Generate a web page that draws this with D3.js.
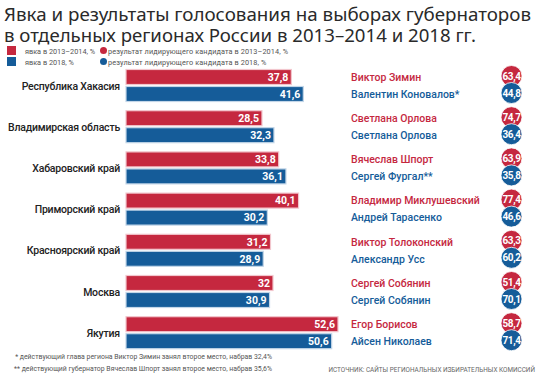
<!DOCTYPE html>
<html><head><meta charset="utf-8">
<script src="https://cdn.jsdelivr.net/npm/d3@7"></script>
<style>
body{margin:0;background:#fff;}
svg{display:block;font-family:Roboto,"Noto Sans",sans-serif;}
</style></head>
<body>
<svg id="chart" width="538" height="380"></svg>
<script>
const regions = ["Республика Хакасия","Владимирская область","Хабаровский край","Приморский край","Красноярский край","Москва","Якутия"];
const turnout2013 = [37.8, 28.5, 33.8, 40.1, 31.2, 32, 52.6];
const turnout2018 = [41.6, 32.3, 36.1, 30.2, 28.9, 30.9, 50.6];
const leader2013 = ["Виктор Зимин","Светлана Орлова","Вячеслав Шпорт","Владимир Миклушевский","Виктор Толоконский","Сергей Собянин","Егор Борисов"];
const leader2018 = ["Валентин Коновалов*","Светлана Орлова","Сергей Фургал**","Андрей Тарасенко","Александр Усс","Сергей Собянин","Айсен Николаев"];
const result2013 = [63.4, 74.7, 63.9, 77.4, 63.3, 51.4, 58.7];
const result2018 = [44.8, 36.4, 35.8, 46.6, 60.2, 70.1, 71.4];
const titleLines = ["Явка и результаты голосования на выборах губернаторов","в отдельных регионах России в 2013–2014 и 2018 гг."];
const legendItems = ["явка в 2013–2014, %","явка в 2018, %","результат лидирующего кандидата в 2013–2014, %","результат лидирующего кандидата в 2018, %"];
const footnotes = ["* действующий глава региона Виктор Зимин занял второе место, набрав 32,4%","**  действующий губернатор Вячеслав Шпорт занял второе место, набрав 35,6%"];
const sourceText = "ИСТОЧНИК: САЙТЫ РЕГИОНАЛЬНЫХ ИЗБИРАТЕЛЬНЫХ КОМИССИЙ";

const RED = "#c5283f", BLUE = "#155c99", RED_L = "#f2c6cd", BLUE_L = "#c3d6e8";
const fmt = v => String(v).replace(".", ",");

const svg = d3.select("#chart");

// title
svg.selectAll("text.title").data(titleLines).join("text")
  .attr("class","title")
  .attr("x",4).attr("y",(d,i)=>21+i*21)
  .attr("fill","#2a2a2a").attr("font-size",18)
  .attr("font-family","'Noto Sans',sans-serif")
  .attr("textLength",(d,i)=> i===0?527:472).attr("lengthAdjust","spacingAndGlyphs")
  .text(d=>d);

// legend
const lg = svg.append("g").attr("font-size",7.3).attr("fill","#555");
[[RED,53],[BLUE,64]].forEach(([c,y],i)=>{
  lg.append("rect").attr("x",7).attr("y",y-7).attr("width",9).attr("height",9).attr("fill",c);
  lg.append("text").attr("x",25).attr("y",y+1).text(legendItems[i]);
  lg.append("circle").attr("cx",103.5).attr("cy",y-2.5).attr("r",3.5).attr("fill",c);
  lg.append("text").attr("x",108).attr("y",y+1).attr("letter-spacing",0.1).text(legendItems[i+2]);
});

const y = d3.scaleBand().domain(regions).range([65.5, 65.5+7*41.2]).padding(0);
const x = d3.scaleLinear().domain([-14.6, 52.6]).range([126, 338]);
const barH = 15, off1 = 4, off2 = 21;

const rows = svg.selectAll("g.row").data(regions).join("g").attr("class","row")
  .attr("transform", d=>`translate(0,${y(d)})`);

rows.append("text").attr("x",120).attr("y",20.5).attr("dy","0.35em")
  .attr("text-anchor","end").attr("font-size",10.5).attr("font-weight",500).attr("fill","#222")
  .attr("letter-spacing",-0.2)
  .text(d=>d);

const series = [
  {vals:turnout2013, names:leader2013, res:result2013, col:RED, light:RED_L, off:off1},
  {vals:turnout2018, names:leader2018, res:result2018, col:BLUE, light:BLUE_L, off:off2}
];

series.forEach(s=>{
  rows.append("rect")
    .attr("x",x(-14.6)).attr("y",s.off)
    .attr("width",(d,i)=>x(s.vals[i])-x(-14.6)).attr("height",barH)
    .attr("fill",s.col).attr("stroke",s.light).attr("stroke-width",1.2);
  rows.append("text")
    .attr("x",(d,i)=>x(s.vals[i])-3).attr("y",s.off+barH/2).attr("dy","0.36em")
    .attr("text-anchor","end").attr("font-size",10.5).attr("font-weight",700).attr("fill","#fff")
    .text((d,i)=>fmt(s.vals[i]));
  rows.append("text")
    .attr("x",351).attr("y",s.off+barH/2).attr("dy","0.36em")
    .attr("font-size",10.5).attr("font-weight",500).attr("fill",s.col)
    .text((d,i)=>s.names[i]);
  rows.append("circle")
    .attr("cx",511.5).attr("cy",s.off+barH/2-1).attr("r",10.5)
    .attr("fill",s.col).attr("stroke","#fff").attr("stroke-width",0.8);
  rows.append("text")
    .attr("x",511.5).attr("y",s.off+barH/2-1).attr("dy","0.36em")
    .attr("text-anchor","middle").attr("font-size",10).attr("font-weight",700).attr("fill","#fff")
    .attr("letter-spacing",-0.4)
    .text((d,i)=>fmt(s.res[i]));
});

// footnotes
svg.selectAll("text.fn").data(footnotes).join("text").attr("class","fn")
  .attr("x",272).attr("y",(d,i)=>359+i*12).attr("text-anchor","end")
  .attr("font-size",6.9).attr("fill","#555").text(d=>d);

svg.append("text").attr("x",535).attr("y",372).attr("text-anchor","end")
  .attr("font-size",6.4).attr("fill","#666").text(sourceText);
</script>
</body></html>
